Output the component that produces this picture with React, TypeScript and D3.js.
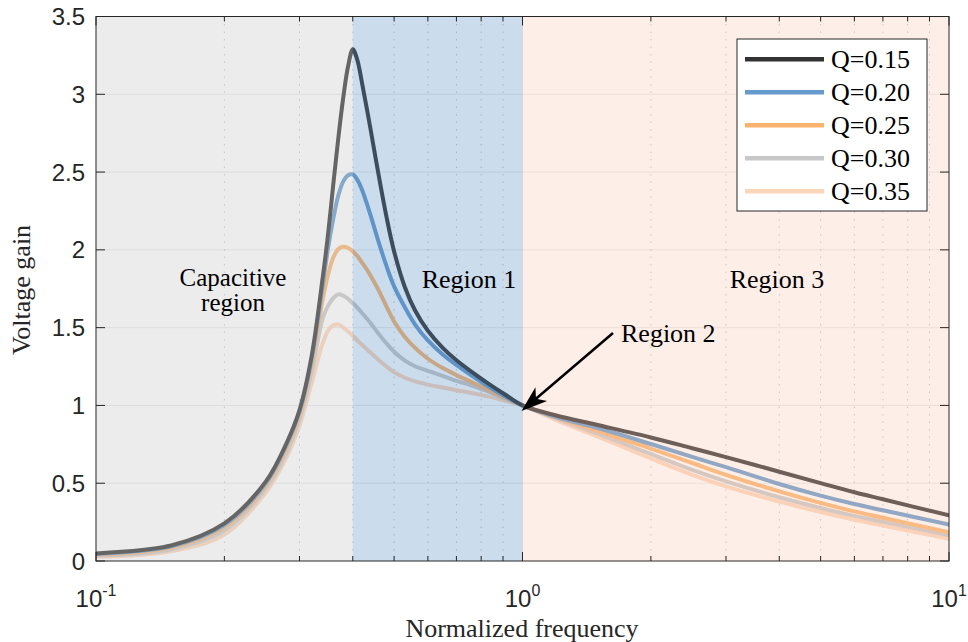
import React from "react";
import * as d3 from "d3";

const freq = [0.1, 0.15, 0.2, 0.25, 0.28, 0.30, 0.32, 0.34, 0.35, 0.36, 0.37, 0.38, 0.39, 0.40, 0.41, 0.42, 0.43, 0.44, 0.46, 0.48, 0.50, 0.53, 0.56, 0.60, 0.65, 0.70, 0.76, 0.83, 0.91, 1.0, 1.2, 1.5, 2, 2.5, 3, 4, 5, 6, 7, 10];

const gainQ015 = [0.049, 0.10, 0.242, 0.51, 0.76, 0.97, 1.31, 1.82, 2.10, 2.42, 2.72, 2.98, 3.18, 3.29, 3.22, 3.08, 2.93, 2.78, 2.48, 2.21, 1.99, 1.76, 1.61, 1.48, 1.37, 1.29, 1.2155, 1.142, 1.07, 1.0, 0.935, 0.874, 0.794, 0.725, 0.668, 0.574, 0.501, 0.442, 0.397, 0.293];
const gainQ020 = [0.045, 0.094, 0.232, 0.50, 0.75, 0.96, 1.29, 1.77, 2.01, 2.20, 2.35, 2.44, 2.48, 2.485, 2.45, 2.39, 2.31, 2.225, 2.05, 1.895, 1.765, 1.63, 1.52, 1.4175, 1.3275, 1.26, 1.191, 1.123, 1.059, 1.0, 0.925, 0.855, 0.752, 0.669, 0.603, 0.495, 0.420, 0.366, 0.326, 0.235];
const gainQ025 = [0.040, 0.086, 0.218, 0.485, 0.73, 0.94, 1.26, 1.68, 1.84, 1.95, 2.005, 2.02, 2.012, 1.99, 1.96, 1.92, 1.88, 1.835, 1.74, 1.635, 1.54, 1.44, 1.37, 1.30, 1.24, 1.195, 1.15, 1.10, 1.05, 1.0, 0.922, 0.835, 0.723, 0.630, 0.554, 0.448, 0.374, 0.319, 0.278, 0.184];
const gainQ030 = [0.034, 0.076, 0.198, 0.465, 0.70, 0.91, 1.21, 1.56, 1.64, 1.69, 1.714, 1.705, 1.685, 1.658, 1.628, 1.596, 1.563, 1.53, 1.46, 1.398, 1.345, 1.288, 1.252, 1.222, 1.19, 1.158, 1.128, 1.09, 1.045, 1.0, 0.915, 0.818, 0.687, 0.585, 0.512, 0.410, 0.341, 0.290, 0.252, 0.166];
const gainQ035 = [0.027, 0.062, 0.17, 0.44, 0.67, 0.87, 1.14, 1.40, 1.48, 1.515, 1.52, 1.50, 1.475, 1.447, 1.418, 1.391, 1.365, 1.34, 1.292, 1.25, 1.214, 1.178, 1.155, 1.134, 1.115, 1.098, 1.08, 1.058, 1.03, 1.0, 0.905, 0.80, 0.659, 0.554, 0.480, 0.382, 0.315, 0.265, 0.228, 0.142];

const seriesLabels = ["Q=0.15", "Q=0.20", "Q=0.25", "Q=0.30", "Q=0.35"];
const seriesColors = ["#333333", "#6699cc", "#fbb36e", "#c8c8c8", "#fdd5b9"];
const seriesValues = [gainQ015, gainQ020, gainQ025, gainQ030, gainQ035];

const yTicks = [0, 0.5, 1, 1.5, 2, 2.5, 3, 3.5];
const yTickLabels = ["0", "0.5", "1", "1.5", "2", "2.5", "3", "3.5"];
const xMajorTicks = [0.1, 1, 10];
const xMajorExp = ["-1", "0", "1"];
const xMinorTicks = [0.2, 0.3, 0.4, 0.5, 0.6, 0.7, 0.8, 0.9, 2, 3, 4, 5, 6, 7, 8, 9];

const regionBounds = [[0.1, 0.4], [0.4, 1], [1, 10]];
const regionColors = ["rgb(200,200,200)", "rgb(82,138,192)", "rgb(248,202,178)"];
const regionOpacity = [0.34, 0.3, 0.3];

const W = 968, H = 642;
const L = 96, R = 949, T = 16.5, B = 561;
const serif = "'Liberation Serif', 'Times New Roman', serif";
const sans = "'Liberation Sans', Arial, Helvetica, sans-serif";
const axisColor = "#262626";

export default function App() {
  const x = d3.scaleLog().domain([0.1, 10]).range([L, R]);
  const y = d3.scaleLinear().domain([0, 3.5]).range([B, T]);
  const line = d3
    .line<number>()
    .x((_, i) => x(freq[i]))
    .y((d) => y(d))
    .curve(d3.curveCatmullRom.alpha(0.5));

  const legendX = 737, legendY = 39, legendW = 190, legendH = 172;
  const rowY = (i: number) => 59.3 + i * 33;

  // arrow
  const ax0 = 613, ay0 = 333, ax1 = 521.5, ay1 = 411;
  const ang = Math.atan2(ay1 - ay0, ax1 - ax0);
  const headLen = 26, headW = 9, back = 7;
  const ux = Math.cos(ang), uy = Math.sin(ang);
  const px = -uy, py = ux;
  const bx = ax1 - ux * headLen, by = ay1 - uy * headLen;
  const nx = ax1 - ux * (headLen - back), ny = ay1 - uy * (headLen - back);
  const headPath = `M${ax1},${ay1} L${bx + px * headW},${by + py * headW} L${nx},${ny} L${bx - px * headW},${by - py * headW} Z`;

  return (
    <svg width={W} height={H} style={{ position: "absolute", left: 0, top: 0, display: "block", background: "#fff" }}>
      <defs>
        <clipPath id="plotClip">
          <rect x={L} y={T} width={R - L} height={B - T} />
        </clipPath>
      </defs>
      <rect x={L} y={T} width={R - L} height={B - T} fill="#fff" />
      {/* grid */}
      <g>
        {xMinorTicks.map((t) => (
          <line key={"mg" + t} x1={x(t)} x2={x(t)} y1={T} y2={B} stroke={axisColor} strokeOpacity={0.28} strokeWidth={1} strokeDasharray="1.5,6" />
        ))}
        {yTicks.slice(1, -1).map((t) => (
          <line key={"yg" + t} x1={L} x2={R} y1={y(t)} y2={y(t)} stroke={axisColor} strokeOpacity={0.1} strokeWidth={1} />
        ))}
        <line x1={x(1)} x2={x(1)} y1={T} y2={B} stroke={axisColor} strokeOpacity={0.1} strokeWidth={1} />
      </g>
      {/* curves */}
      <g clipPath="url(#plotClip)">
        {seriesValues.map((vals, i) => (
          <path key={seriesLabels[i]} d={line(vals) || ""} fill="none" stroke={seriesColors[i]} strokeWidth={4} strokeLinejoin="round" strokeLinecap="round" />
        )).reverse()}
      </g>
      {/* region overlays */}
      <g>
        {regionBounds.map((b, i) => (
          <rect key={"r" + i} x={x(b[0])} y={T} width={x(b[1]) - x(b[0])} height={B - T} fill={regionColors[i]} fillOpacity={regionOpacity[i]} />
        ))}
      </g>
      {/* axes box */}
      <rect x={L} y={T} width={R - L} height={B - T} fill="none" stroke={axisColor} strokeWidth={1} />
      {/* ticks */}
      <g stroke={axisColor} strokeWidth={1}>
        {yTicks.map((t) => (
          <g key={"yt" + t}>
            <line x1={L} x2={L + 9} y1={y(t)} y2={y(t)} />
            <line x1={R} x2={R - 9} y1={y(t)} y2={y(t)} />
          </g>
        ))}
        {xMajorTicks.map((t) => (
          <g key={"xt" + t}>
            <line x1={x(t)} x2={x(t)} y1={B} y2={B - 9} />
            <line x1={x(t)} x2={x(t)} y1={T} y2={T + 9} />
          </g>
        ))}
        {xMinorTicks.map((t) => (
          <g key={"xmt" + t}>
            <line x1={x(t)} x2={x(t)} y1={B} y2={B - 5} />
            <line x1={x(t)} x2={x(t)} y1={T} y2={T + 5} />
          </g>
        ))}
      </g>
      {/* tick labels */}
      <g fontFamily={sans} fontSize={24} fill={axisColor}>
        {yTicks.map((t, i) => (
          <text key={"ytl" + t} x={85} y={y(t)} textAnchor="end" dominantBaseline="central">
            {yTickLabels[i]}
          </text>
        ))}
        {xMajorTicks.map((t, i) => (
          <text key={"xtl" + t} x={x(t)} y={607} textAnchor="middle">
            10
            <tspan fontSize={16} dy={-11}>{xMajorExp[i]}</tspan>
          </text>
        ))}
      </g>
      {/* axis labels */}
      <text x={522} y={637} textAnchor="middle" fontFamily={serif} fontSize={26} fill={axisColor}>
        Normalized frequency
      </text>
      <text transform="translate(30,290) rotate(-90)" textAnchor="middle" fontFamily={serif} fontSize={26} fill={axisColor}>
        Voltage gain
      </text>
      {/* annotations */}
      <g fontFamily={serif} fill="#000">
        <text x={233} y={286} textAnchor="middle" fontSize={25}>Capacitive</text>
        <text x={233} y={311} textAnchor="middle" fontSize={25}>region</text>
        <text x={469} y={288} textAnchor="middle" fontSize={26}>Region 1</text>
        <text x={777} y={288} textAnchor="middle" fontSize={26}>Region 3</text>
        <text x={621} y={342} fontSize={26}>Region 2</text>
      </g>
      {/* arrow */}
      <line x1={ax0} y1={ay0} x2={nx} y2={ny} stroke="#000" strokeWidth={2.5} />
      <path d={headPath} fill="#000" />
      {/* legend */}
      <rect x={legendX} y={legendY} width={legendW} height={legendH} fill="#fff" stroke={axisColor} strokeWidth={1} />
      {seriesLabels.map((lab, i) => (
        <g key={"lg" + lab}>
          <line x1={745} x2={824} y1={rowY(i)} y2={rowY(i)} stroke={seriesColors[i]} strokeWidth={4.5} />
          <text x={831} y={rowY(i)} dominantBaseline="central" fontFamily={serif} fontSize={26} fill="#000">
            {lab}
          </text>
        </g>
      ))}
    </svg>
  );
}
